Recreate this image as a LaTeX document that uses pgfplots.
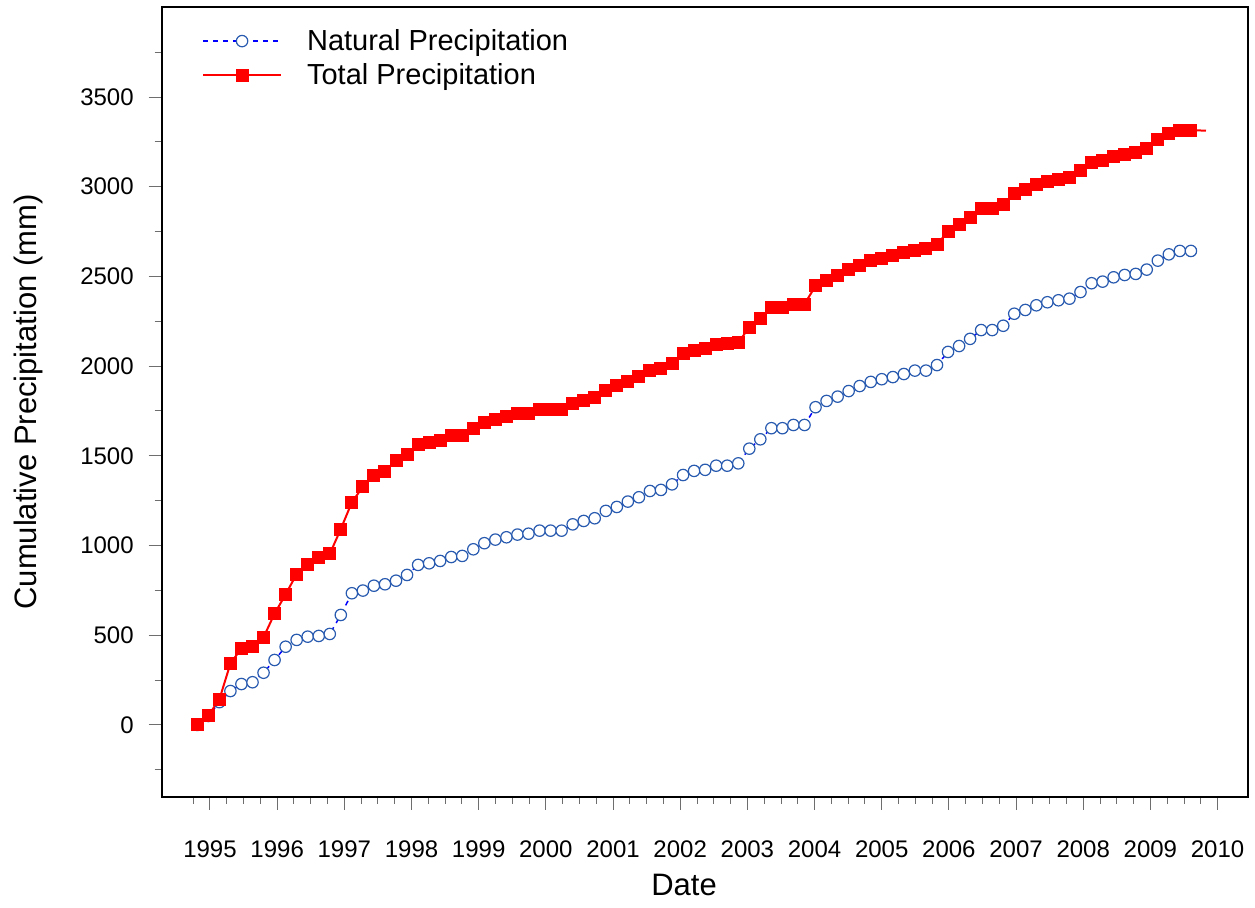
\documentclass[border=0pt]{standalone}
\usepackage{fontspec}
\setmainfont{Liberation Sans}
\usepackage{pgfplots}
\usepackage{pgfplotstable}
\pgfplotsset{compat=1.18}
\definecolor{mblue}{RGB}{40,90,175}
\definecolor{tickgray}{RGB}{110,110,110}
\pgfplotstableread{
x nat tot
1994.811 0 0
1994.975 50 52
1995.140 127 143
1995.304 189 342
1995.468 228 427
1995.633 238 436
1995.797 291 489
1995.961 362 620
1996.126 436 728
1996.290 474 841
1996.454 492 895
1996.619 496 931
1996.783 507 953
1996.947 613 1092
1997.112 734 1241
1997.276 749 1328
1997.440 776 1392
1997.605 784 1414
1997.769 804 1475
1997.933 836 1510
1998.098 892 1564
1998.262 901 1575
1998.426 914 1588
1998.591 936 1611
1998.755 942 1616
1998.920 979 1653
1999.084 1013 1687
1999.248 1033 1705
1999.413 1046 1720
1999.577 1061 1737
1999.741 1066 1737
1999.906 1083 1756
2000.070 1083 1761
2000.234 1083 1761
2000.399 1118 1793
2000.563 1137 1809
2000.727 1152 1824
2000.892 1193 1865
2001.056 1215 1891
2001.220 1245 1917
2001.385 1269 1943
2001.549 1304 1977
2001.713 1310 1984
2001.878 1341 2017
2002.042 1393 2068
2002.206 1416 2088
2002.371 1422 2096
2002.535 1445 2122
2002.699 1445 2125
2002.864 1458 2131
2003.028 1540 2217
2003.192 1592 2266
2003.357 1654 2328
2003.521 1654 2328
2003.685 1672 2346
2003.850 1672 2346
2004.014 1771 2447
2004.178 1806 2480
2004.343 1830 2504
2004.507 1861 2536
2004.671 1889 2562
2004.836 1912 2586
2005.000 1927 2601
2005.165 1939 2614
2005.329 1956 2632
2005.493 1975 2647
2005.658 1975 2653
2005.822 2006 2679
2005.986 2079 2749
2006.151 2112 2790
2006.315 2152 2830
2006.479 2201 2877
2006.644 2201 2877
2006.808 2225 2900
2006.972 2292 2963
2007.137 2313 2985
2007.301 2339 3011
2007.465 2356 3030
2007.630 2367 3041
2007.794 2376 3050
2007.958 2413 3088
2008.123 2462 3136
2008.287 2471 3147
2008.451 2495 3169
2008.616 2508 3180
2008.780 2514 3188
2008.944 2538 3212
2009.109 2588 3264
2009.273 2623 3298
2009.437 2642 3316
2009.602 2642 3316
}\datatable
\begin{document}
\begin{tikzpicture}
\useasboundingbox (0,0) rectangle (627.5pt,453.5pt);
\begin{axis}[
  at={(80.85pt,55.15pt)}, anchor=south west,
  width=543pt, height=394.7pt, scale only axis,
  xmin=1994.281, xmax=2010.447, ymin=-400, ymax=4000,
  axis line style={line width=1pt},
  xtick={1995,...,2010},
  minor xtick={1994.75,1995,...,2010},
  ytick={0,500,...,3500},
  minor ytick={-250,250,...,3750},
  tick align=outside, xtick pos=lower, ytick pos=left,
  major tick length=6.5pt, minor tick length=3.5pt,
  every tick/.style={tickgray, line width=0.5pt},
  /pgf/number format/1000 sep={},
  /pgf/number format/assume math mode=true,
  tick label style={font=\fontsize{12}{14}\selectfont},
  xticklabel shift=12pt,
  yticklabel style={xshift=-4pt},
  xlabel={Date}, ylabel={Cumulative Precipitation (mm)},
  label style={font=\fontsize{15.5}{18}\selectfont},
  xlabel style={at={(axis description cs:0.481,-0.112)}, anchor=center},
  ylabel style={at={(axis description cs:-0.123,0.5)}, anchor=center},
  legend style={draw=none, fill=none, at={(axis description cs:0.0368,0.978)}, anchor=north west,
    font=\fontsize{14.5}{17}\selectfont, inner sep=0pt, row sep=1pt, column sep=10.5pt},
  legend cell align=left,
  legend image code/.code={\draw[mark repeat=2,mark phase=2,#1] plot coordinates {(0pt,0pt) (19.5pt,0pt) (39pt,0pt)};},
]
\addplot[forget plot, blue, line width=0.75pt, dash pattern=on 2.5pt off 2.5pt] coordinates {(2009.602,2642) (2009.72,2642)};
\addplot[forget plot, red, line width=1pt] coordinates {(2009.602,3316) (2009.826,3312)};
\addplot[blue, line width=0.75pt, dash pattern=on 2.5pt off 2.5pt, mark=*, mark size=2.85pt,
  mark options={solid, draw=mblue, fill=white, line width=0.6pt}] table[x=x, y=nat] {\datatable};
\addlegendentry{Natural Precipitation}
\addplot[red, line width=1pt, mark=square*, mark size=2.75pt, mark options={solid, fill=red, draw=red}] table[x=x, y=tot] {\datatable};
\addlegendentry{Total Precipitation}
\end{axis}
\end{tikzpicture}
\end{document}
